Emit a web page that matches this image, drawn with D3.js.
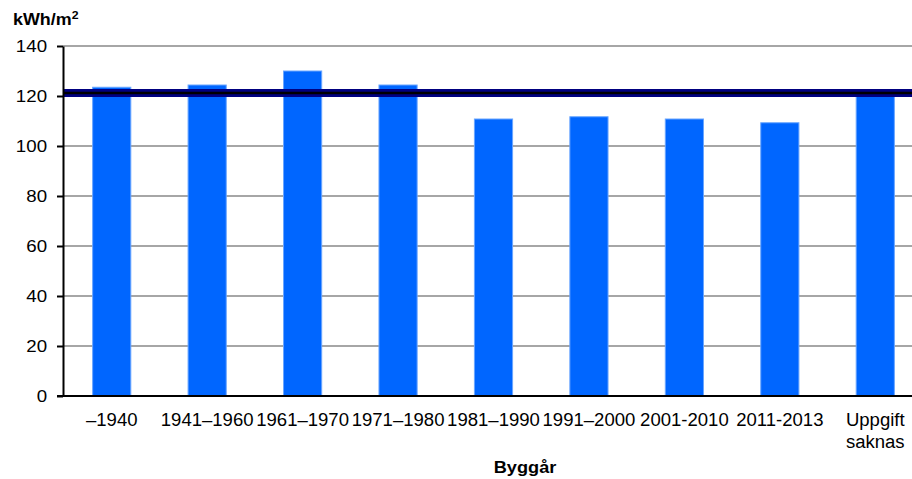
<!DOCTYPE html>
<html>
<head>
<meta charset="utf-8">
<script src="https://cdn.jsdelivr.net/npm/d3@7"></script>
<style>
body { margin: 0; background: #fff; }
svg { display: block; font-family: "Liberation Sans", Arial, sans-serif; }
</style>
</head>
<body>
<svg></svg>
<script>
// energy use per building-year class, kWh/m2
var categories = ["–1940", "1941–1960", "1961–1970", "1971–1980", "1981–1990", "1991–2000", "2001-2010", "2011-2013", "Uppgift saknas"];
var values = [123.5, 124.4, 130, 124.4, 110.8, 111.7, 110.8, 109.3, 120];
var average = 121.2;
var yTicks = [0, 20, 40, 60, 80, 100, 120, 140];

var width = 912;
var height = 479;
var svg = d3.select("svg")
    .attr("width", width)
    .attr("height", height);

var x = d3.scaleBand()
    .domain(categories)
    .range([64, 923])
    .paddingInner(0.6)
    .paddingOuter(0.3);

var y = d3.scaleLinear()
    .domain([0, 140])
    .range([396, 46]);

// gridlines
svg.append("g")
    .selectAll("line")
    .data(yTicks.slice(1))
    .enter().append("line")
        .attr("x1", 63)
        .attr("x2", width)
        .attr("y1", d => y(d))
        .attr("y2", d => y(d))
        .attr("stroke", "#888")
        .attr("stroke-width", 1.5);

// bars
svg.append("g")
    .selectAll("rect")
    .data(values)
    .enter().append("rect")
        .attr("x", (d, i) => x(categories[i]))
        .attr("y", d => y(d))
        .attr("width", x.bandwidth())
        .attr("height", d => y(0) - y(d))
        .attr("fill", "#0066ff")
        .attr("stroke", "#6aa6ff")
        .attr("stroke-width", 1);

// average line
svg.append("line")
    .attr("x1", 63).attr("x2", width)
    .attr("y1", y(average)).attr("y2", y(average))
    .attr("stroke", "#000080")
    .attr("stroke-width", 8);
svg.append("line")
    .attr("x1", 63).attr("x2", width)
    .attr("y1", y(average)).attr("y2", y(average))
    .attr("stroke", "#000")
    .attr("stroke-width", 2.5);

// y axis
var yAxis = svg.append("g")
    .attr("transform", "translate(63,0)")
    .call(d3.axisLeft(y).tickValues(yTicks).tickSize(6).tickSizeOuter(0).tickPadding(8.5));
yAxis.select(".domain").attr("stroke", "#000").attr("stroke-width", 2);
yAxis.selectAll(".tick line").attr("stroke", "#000").attr("stroke-width", 2);
yAxis.selectAll(".tick text")
    .attr("font-size", 17)
    .attr("font-family", "Liberation Sans, Arial, sans-serif")
    .attr("fill", "#000")
    .attr("transform", "scale(1.1,1)");

// x axis baseline
svg.append("line")
    .attr("x1", 57).attr("x2", width)
    .attr("y1", y(0)).attr("y2", y(0))
    .attr("stroke", "#000")
    .attr("stroke-width", 2);

// category labels
var labels = svg.append("g")
    .selectAll("text")
    .data(categories)
    .enter().append("text")
        .attr("text-anchor", "middle")
        .attr("font-size", 18)
        .attr("fill", "#000")
        .attr("transform", d => "translate(" + (x(d) + x.bandwidth() / 2) + ",426) scale(1.03,1)");
labels.each(function(d) {
    var parts = d === "Uppgift saknas" ? ["Uppgift", "saknas"] : [d];
    d3.select(this).selectAll("tspan")
        .data(parts)
        .enter().append("tspan")
            .attr("x", 0)
            .attr("dy", (p, j) => j === 0 ? 0 : 22)
            .text(p => p);
});

// titles
var unit = svg.append("text")
    .attr("transform", "translate(13,25) scale(1.12,1)")
    .attr("font-size", 16)
    .attr("font-weight", "bold")
    .text("kWh/m");
unit.append("tspan")
    .attr("font-size", 11)
    .attr("dy", -6)
    .text("2");

svg.append("text")
    .attr("transform", "translate(525,473) scale(1.07,1)")
    .attr("text-anchor", "middle")
    .attr("font-size", 17)
    .attr("font-weight", "bold")
    .text("Byggår");
</script>
</body>
</html>
